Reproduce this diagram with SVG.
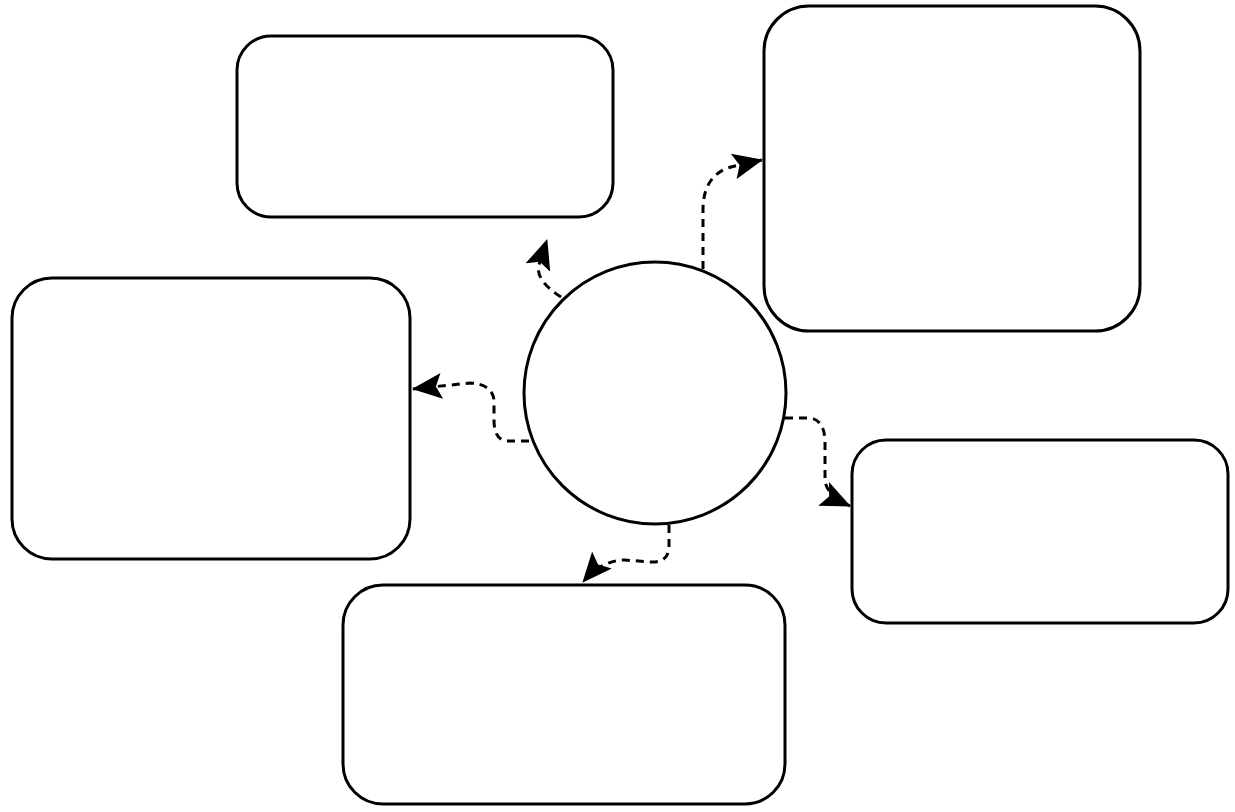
<svg xmlns="http://www.w3.org/2000/svg" width="1235" height="812" viewBox="0 0 1235 812">
  <defs>
    <style>
      .node { fill: #ffffff; stroke: #000000; stroke-width: 3; }
      .edge { fill: none; stroke: #000000; stroke-width: 3; stroke-dasharray: 8 6; }
    </style>
    <marker id="arrow" viewBox="0 0 30 26" refX="29" refY="13" markerWidth="30" markerHeight="26" markerUnits="userSpaceOnUse" orient="auto">
      <path d="M0,0 L30,13 L0,26 L6,13 Z" fill="#000000"/>
    </marker>
  </defs>
  <rect width="1235" height="812" fill="#ffffff"/>

  <g id="connectors">
    <path class="edge" marker-end="url(#arrow)" d="M561,297 C545,287 534,274 540,262 Q543,252 547,240"/>
    <path class="edge" marker-end="url(#arrow)" d="M703,269 L703,210 Q703,170 740,165 L762,160"/>
    <path class="edge" marker-end="url(#arrow)" d="M529,441 L507,441 Q494,440 494,420 L494,400 Q492,384 470,383 L413,389"/>
    <path class="edge" marker-end="url(#arrow)" d="M785,418 L810,418 Q824,420 825,440 L825,480 Q826,495 850,506"/>
    <path class="edge" marker-end="url(#arrow)" d="M669,525 L669,548 Q668,563 650,562 L625,560 Q602,560 583,582"/>
  </g>

  <g id="node-top-left">
    <rect class="node" x="237" y="36" width="376" height="181" rx="34" ry="34"/>
  </g>
  <g id="node-top-right">
    <rect class="node" x="764" y="6" width="376" height="325" rx="45" ry="45"/>
  </g>
  <g id="node-left">
    <rect class="node" x="12" y="278" width="398" height="281" rx="40" ry="40"/>
  </g>
  <g id="node-right">
    <rect class="node" x="852" y="440" width="376" height="183" rx="34" ry="34"/>
  </g>
  <g id="node-bottom">
    <rect class="node" x="343" y="585" width="442" height="219" rx="40" ry="40"/>
  </g>
  <g id="node-center">
    <circle class="node" cx="655" cy="393" r="131"/>
  </g>
</svg>
